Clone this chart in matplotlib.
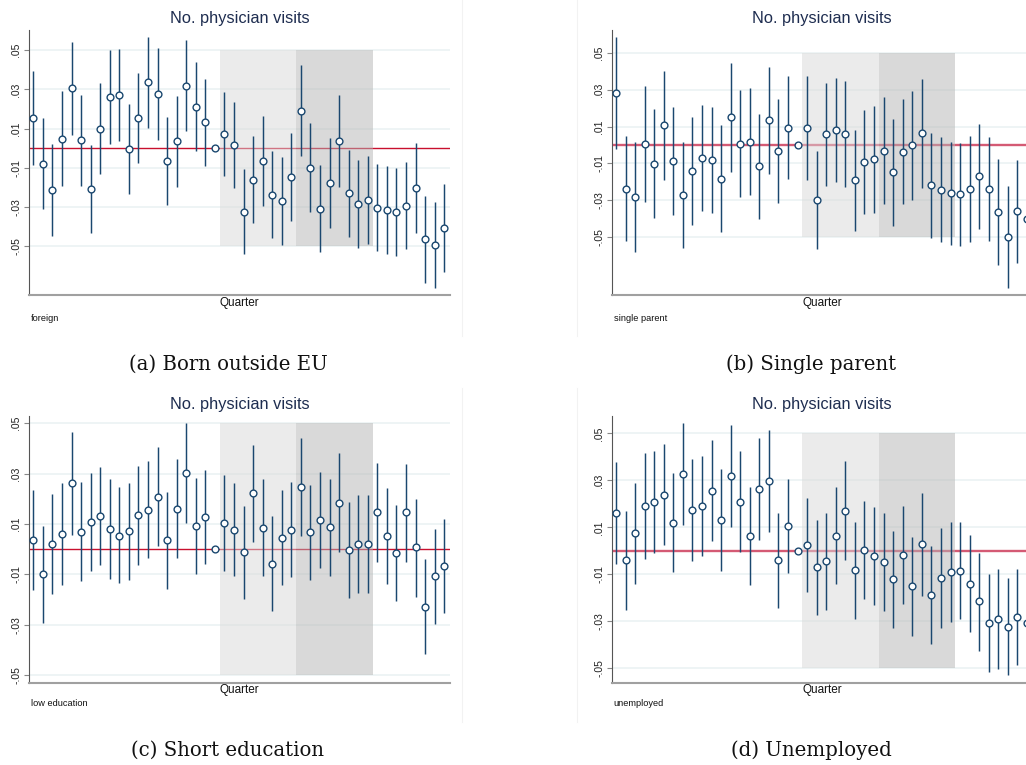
import numpy as np
import matplotlib
matplotlib.use("Agg")
import matplotlib.pyplot as plt
from matplotlib.lines import Line2D

# ---------------- data ----------------
quarters = np.arange(44)
ref_quarter = 19
period_light = (19.5, 27.5)
period_dark = (27.5, 35.5)

titles = ["No. physician visits"] * 4
notes = ["foreign", "single parent", "low education", "unemployed"]
captions = ["(a) Born outside EU", "(b) Single parent", "(c) Short education", "(d) Unemployed"]
ytick_vals = [-0.05, -0.03, -0.01, 0.01, 0.03, 0.05]
ytick_labels = ["-.05", "-.03", "-.01", ".01", ".03", ".05"]
xlabel = "Quarter"

nan = np.nan
est_a = [0.0153, -0.0078, -0.0215, 0.0049, 0.0305, 0.0042, -0.0207, 0.0100, 0.0261, 0.0271,
         -0.0003, 0.0153, 0.0336, 0.0276, -0.0066, 0.0036, 0.0319, 0.0212, 0.0132, 0.0,
         0.0071, 0.0019, -0.0322, -0.0161, -0.0063, -0.0236, -0.0266, -0.0147, 0.0192, -0.0098,
         -0.0307, -0.0178, 0.0037, -0.0229, -0.0283, -0.0261, -0.0302, -0.0315, -0.0325, -0.0292,
         -0.0200, -0.0463, -0.0492, -0.0405]
hi_a = [0.0392, 0.0153, 0.0020, 0.0290, 0.0541, 0.0273, 0.0017, 0.0331, 0.0500, 0.0505,
        0.0225, 0.0383, 0.0566, 0.0508, 0.0158, 0.0266, 0.0551, 0.0439, 0.0353, nan,
        0.0286, 0.0236, -0.0107, 0.0063, 0.0164, -0.0012, -0.0042, 0.0076, 0.0422, 0.0127,
        -0.0085, 0.0053, 0.0271, -0.0007, -0.0059, -0.0037, -0.0080, -0.0092, -0.0103, -0.0068,
        0.0025, -0.0244, -0.0273, -0.0181]
lo_a = [-0.0086, -0.0308, -0.0449, -0.0192, 0.0068, -0.0190, -0.0432, -0.0129, 0.0022, 0.0039,
        -0.0234, -0.0076, 0.0105, 0.0044, -0.0288, -0.0195, 0.0086, -0.0014, -0.0088, nan,
        -0.0142, -0.0200, -0.0537, -0.0383, -0.0292, -0.0459, -0.0490, -0.0371, -0.0037, -0.0322,
        -0.0529, -0.0408, -0.0198, -0.0451, -0.0508, -0.0485, -0.0525, -0.0537, -0.0549, -0.0515,
        -0.0429, -0.0686, -0.0712, -0.0629]

est_b = [0.0282, -0.0238, -0.0282, 0.0005, -0.0102, 0.0107, -0.0085, -0.0271, -0.0144, -0.0071,
         -0.0082, -0.0184, 0.0153, 0.0007, 0.0016, -0.0116, 0.0135, -0.0033, 0.0093, 0.0,
         0.0093, -0.0298, 0.0058, 0.0084, 0.0060, -0.0193, -0.0095, -0.0076, -0.0031, -0.0149,
         -0.0036, -0.0002, 0.0064, -0.0220, -0.0244, -0.0264, -0.0269, -0.0242, -0.0171, -0.0238,
         -0.0364, -0.0502, -0.0362, -0.0405]
hi_b = [0.0589, 0.0049, 0.0016, 0.0322, 0.0195, 0.0405, 0.0209, 0.0015, 0.0151, 0.0218,
        0.0209, 0.0111, 0.0449, 0.0298, 0.0309, 0.0169, 0.0425, 0.0253, 0.0375, nan,
        0.0375, -0.0033, 0.0338, 0.0365, 0.0351, 0.0082, 0.0191, 0.0213, 0.0262, 0.0140,
        0.0249, 0.0295, 0.0360, 0.0064, 0.0045, 0.0016, 0.0009, 0.0047, 0.0115, 0.0045,
        -0.0075, -0.0224, -0.0082, -0.0120]
lo_b = [-0.0024, -0.0525, -0.0584, -0.0309, -0.0398, -0.0193, -0.0380, -0.0560, -0.0438, -0.0360,
        -0.0371, -0.0476, -0.0145, -0.0282, -0.0273, -0.0402, -0.0156, -0.0318, -0.0187, nan,
        -0.0191, -0.0565, -0.0222, -0.0202, -0.0231, -0.0467, -0.0378, -0.0369, -0.0324, -0.0440,
        -0.0320, -0.0298, -0.0233, -0.0505, -0.0531, -0.0547, -0.0549, -0.0529, -0.0456, -0.0525,
        -0.0655, -0.0780, -0.0642, -0.0690]

est_c = [0.0038, -0.0098, 0.0022, 0.0061, 0.0261, 0.0070, 0.0110, 0.0131, 0.0079, 0.0054,
         0.0071, 0.0134, 0.0157, 0.0209, 0.0037, 0.0161, 0.0303, 0.0094, 0.0128, 0.0,
         0.0106, 0.0078, -0.0012, 0.0222, 0.0086, -0.0057, 0.0046, 0.0078, 0.0249, 0.0067,
         0.0116, 0.0087, 0.0184, -0.0003, 0.0021, 0.0022, 0.0146, 0.0053, -0.0015, 0.0146,
         0.0008, -0.0228, -0.0107, -0.0066]
hi_c = [0.0237, 0.0093, 0.0221, 0.0262, 0.0464, 0.0265, 0.0302, 0.0325, 0.0278, 0.0246,
        0.0263, 0.0329, 0.0351, 0.0406, 0.0229, 0.0360, 0.0502, 0.0284, 0.0315, nan,
        0.0294, 0.0262, 0.0172, 0.0414, 0.0278, 0.0132, 0.0237, 0.0267, 0.0442, 0.0257,
        0.0307, 0.0279, 0.0382, 0.0189, 0.0214, 0.0214, 0.0341, 0.0243, 0.0175, 0.0339,
        0.0201, -0.0040, 0.0081, 0.0120]
lo_c = [-0.0160, -0.0291, -0.0176, -0.0144, 0.0058, -0.0126, -0.0085, -0.0063, -0.0119, -0.0136,
        -0.0122, -0.0061, -0.0034, 0.0013, -0.0156, -0.0036, 0.0106, -0.0097, -0.0058, nan,
        -0.0085, -0.0107, -0.0197, 0.0030, -0.0108, -0.0246, -0.0144, -0.0112, 0.0054, -0.0123,
        -0.0075, -0.0107, -0.0013, -0.0194, -0.0172, -0.0172, -0.0049, -0.0139, -0.0204, -0.0049,
        -0.0188, -0.0417, -0.0296, -0.0255]

est_d = [0.0163, -0.0040, 0.0074, 0.0191, 0.0210, 0.0239, 0.0120, 0.0326, 0.0176, 0.0193,
         0.0256, 0.0132, 0.0319, 0.0210, 0.0062, 0.0265, 0.0299, -0.0040, 0.0106, 0.0,
         0.0025, -0.0069, -0.0044, 0.0065, 0.0170, -0.0081, 0.0004, -0.0021, -0.0047, -0.0119,
         -0.0017, -0.0150, 0.0028, -0.0187, -0.0116, -0.0089, -0.0084, -0.0139, -0.0215, -0.0305,
         -0.0289, -0.0322, -0.0280, -0.0307]
hi_d = [0.0380, 0.0171, 0.0290, 0.0416, 0.0426, 0.0455, 0.0333, 0.0544, 0.0391, 0.0405,
        0.0472, 0.0348, 0.0535, 0.0424, 0.0272, 0.0482, 0.0513, 0.0161, 0.0306, nan,
        0.0224, 0.0132, 0.0161, 0.0272, 0.0381, 0.0123, 0.0211, 0.0186, 0.0160, 0.0085,
        0.0190, 0.0061, 0.0245, 0.0021, 0.0096, 0.0122, 0.0123, 0.0067, -0.0010, -0.0098,
        -0.0078, -0.0116, -0.0076, -0.0100]
lo_d = [-0.0055, -0.0252, -0.0142, -0.0034, -0.0007, 0.0024, -0.0092, 0.0109, -0.0041, -0.0020,
        0.0044, -0.0086, 0.0102, -0.0004, -0.0144, 0.0047, 0.0082, -0.0244, -0.0096, nan,
        -0.0174, -0.0272, -0.0251, -0.0142, -0.0040, -0.0288, -0.0205, -0.0231, -0.0256, -0.0327,
        -0.0225, -0.0361, -0.0191, -0.0395, -0.0330, -0.0302, -0.0292, -0.0347, -0.0424, -0.0514,
        -0.0501, -0.0528, -0.0487, -0.0520]

panels = [
    dict(est=est_a, lo=lo_a, hi=hi_a, ylim=(-0.0747, 0.0602)),
    dict(est=est_b, lo=lo_b, hi=hi_b, ylim=(-0.0820, 0.0627)),
    dict(est=est_c, lo=lo_c, hi=hi_c, ylim=(-0.0530, 0.0529)),
    dict(est=est_d, lo=lo_d, hi=hi_d, ylim=(-0.0561, 0.0574)),
]

# ---------------- layout (pixels) ----------------
W, H = 1026, 765
boxes = [  # left, right, top, bottom in pixels
    (29.0, 450.0, 30.0, 295.0),
    (611.7, 1032.7, 30.0, 295.3),
    (29.0, 450.0, 416.0, 682.7),
    (611.7, 1032.7, 416.0, 682.7),
]
title_y = [18, 18, 405, 405]
quarter_y = [303, 303, 690, 690]
note_y = [318, 318, 704, 704]
caption_xy = [(228, 364), (811, 364), (227.5, 750), (811, 750)]
zero_style = [dict(color="#c8102e", lw=1.0), dict(color="#d45a74", lw=1.7),
              dict(color="#c8102e", lw=1.0), dict(color="#d45a74", lw=1.7)]

NAVY = "#1a476f"
TITLE_C = "#1e2d50"

fig = plt.figure(figsize=(W / 100, H / 100), dpi=100)
fig.patch.set_facecolor("white")

def fx(px):
    return px / W

def fy(py):
    return 1 - py / H

for i, p in enumerate(panels):
    l, r, t, b = boxes[i]
    ax = fig.add_axes([fx(l), fy(b), (r - l) / W, (b - t) / H])
    ax.set_facecolor("white")
    ax.set_xlim(-0.45, 43.6)
    ax.set_ylim(*p["ylim"])

    # grid
    for v in ytick_vals:
        ax.axhline(v, color="#eaf1f3", lw=1.1, zorder=0.5)
    # zero line
    ax.axhline(0, zorder=1, **zero_style[i])
    # shading
    ax.fill_between(period_light, -0.05, 0.05, color="#d9d9d9", alpha=0.5, lw=0, zorder=2)
    ax.fill_between(period_dark, -0.05, 0.05, color="#b5b5b5", alpha=0.5, lw=0, zorder=2)

    est = np.array(p["est"], dtype=float)
    lo = np.array(p["lo"], dtype=float)
    hi = np.array(p["hi"], dtype=float)
    m = ~np.isnan(lo)
    ax.vlines(quarters[m], lo[m], hi[m], color=NAVY, lw=1.05, zorder=3)
    ax.plot(quarters, est, ls="none", marker="o", ms=4.9, mfc="white",
            mec=NAVY, mew=1.0, zorder=4)

    ax.set_yticks(ytick_vals)
    ax.set_yticklabels(ytick_labels, rotation=90, va="center",
                       fontsize=7.5, family="Liberation Sans", color="#222222")
    ax.tick_params(axis="y", length=3.5, width=0.8, color="#888888", pad=2)
    ax.set_xticks([])
    for s in ["top", "right"]:
        ax.spines[s].set_visible(False)
    ax.spines["left"].set_color("#555555")
    ax.spines["left"].set_linewidth(0.8)
    ax.spines["bottom"].set_color("#a0a0a0")
    ax.spines["bottom"].set_linewidth(1.5)

    cx = (l + r) / 2
    fig.text(fx(cx), fy(title_y[i]), titles[i], ha="center", va="center",
             fontsize=11.8, family="Liberation Sans", color=TITLE_C)
    fig.text(fx(cx), fy(quarter_y[i]), xlabel, ha="center", va="center",
             fontsize=8.5, family="Liberation Sans", color="#111111")
    fig.text(fx(l + 2), fy(note_y[i]), notes[i], ha="left", va="center",
             fontsize=6.7, family="Liberation Sans", color="#111111")
    cxp, cyp = caption_xy[i]
    fig.text(fx(cxp), fy(cyp), captions[i], ha="center", va="center",
             fontsize=14.2, family="DejaVu Serif", color="#111111")

# faint frame lines of the embedded graphs
for x in (461.7, 577.3):
    fig.add_artist(Line2D([fx(x), fx(x)], [fy(0), fy(336)], color="#f2f2f2", lw=0.8))
    fig.add_artist(Line2D([fx(x), fx(x)], [fy(388), fy(722)], color="#f2f2f2", lw=0.8))

fig.savefig("out.png", dpi=100, facecolor="white")
